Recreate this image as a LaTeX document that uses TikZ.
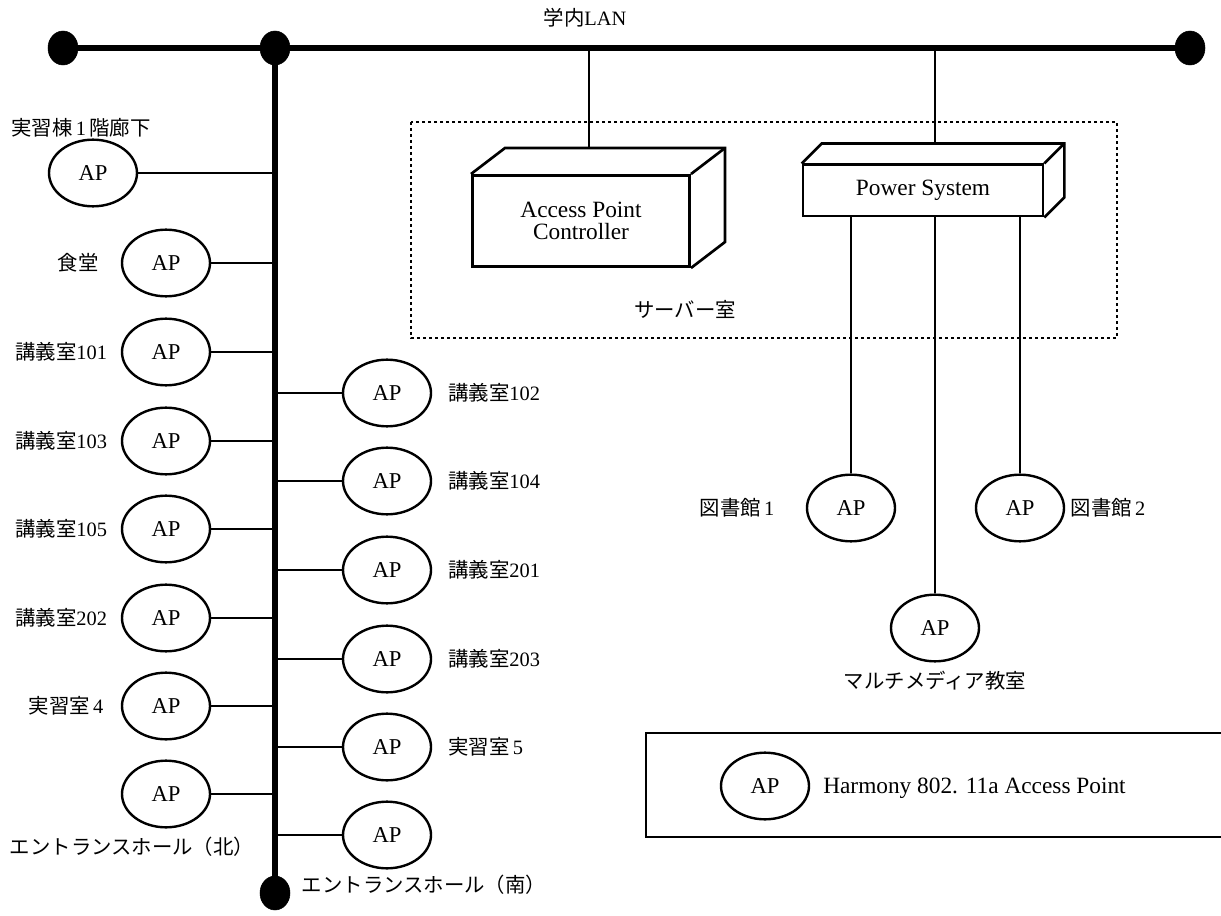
\documentclass[tikz,border=0pt]{standalone}
\usepackage{fontspec}
\setmainfont{Liberation Serif}
\newfontfamily\jp{Noto Sans CJK JP}
\usetikzlibrary{shapes.geometric,calc}
\begin{document}
\begin{tikzpicture}[x=0.75pt,y=-0.75pt,
  bus/.style={line width=3.9pt},
  wire/.style={line width=1.8pt},
  dot/.style={ellipse,fill=black,draw=black,minimum width=22.5pt,minimum height=25.5pt,inner sep=0pt},
  ap/.style={ellipse,draw,line width=1.8pt,minimum width=66pt,minimum height=50pt,inner sep=0pt,font=\fontsize{17}{19}\selectfont},
  lbl/.style={font=\fontsize{15.3}{17}\selectfont,inner sep=0pt},
  boxfront/.style={draw,line width=2pt,align=center,inner sep=0pt,font=\fontsize{17.5}{20}\selectfont},
  boxline/.style={line width=2pt,line join=miter},
  room/.style={line width=1.6pt,dash pattern=on 2.6pt off 1.9pt},
  legendbox/.style={line width=2pt}
]
\useasboundingbox (0,0) rectangle (1221,916);

% backbone
\node[dot] (d1) at (63,48) {};
\node[dot] (d2) at (275,48) {};
\node[dot] (d3) at (1190,48) {};
\node[dot] (d4) at (275,893) {};
\draw[bus] (d1.center) -- (d3.center);
\draw[bus] (d2.center) -- (d4.center);
\node[lbl] (lan) at (585,18) {{\jp 学内}LAN};

% server room
\draw[room] (411,122) rectangle (1117,338);
\node[lbl] (srv) at (685,309) {\jp サーバー室};

% Access Point Controller box
\node[boxfront,minimum width=163pt,minimum height=68.5pt] (apc) at (581,221) {Access Point\\[-3pt]Controller};
\coordinate (apcNW) at ($(apc.north west)+(34,-26)$);
\coordinate (apcNE) at ($(apc.north east)+(34,-26)$);
\coordinate (apcSE) at ($(apc.south east)+(34,-26)$);
\draw[boxline] (apc.north west) -- (apcNW) -- (apcNE) -- (apcSE) -- (apc.south east);
\draw[boxline] (apc.north east) -- (apcNE);
\coordinate (t1) at (589,48);
\draw[wire] (t1) -- (t1 |- apcNW);

% Power System box
\node[boxfront,minimum width=180pt,minimum height=38.5pt] (ps) at (923,190.5) {Power System};
\coordinate (psNW) at ($(ps.north west)+(20,-20)$);
\coordinate (psNE) at ($(ps.north east)+(20,-20)$);
\coordinate (psSE) at ($(ps.south east)+(20,-20)$);
\draw[boxline] (ps.north west) -- (psNW) -- (psNE) -- (psSE) -- (ps.south east);
\draw[boxline] (ps.north east) -- (psNE);
\coordinate (t2) at (935,48);
\draw[wire] (t2) -- (t2 |- psNW);

% APs under power system
\node[ap] (lib1) at (851,508) {AP};
\node[ap] (lib2) at (1020,508) {AP};
\node[ap] (mm) at (935,628) {AP};
\draw[wire] (ps.south -| lib1) -- (lib1.north);
\draw[wire] (ps.south -| lib2) -- (lib2.north);
\draw[wire] (ps.south -| mm) -- (mm.north);
\node[lbl] (lib1l) at (737,508) {{\jp 図書館}\,1};
\node[lbl] (lib2l) at (1108,508) {{\jp 図書館}\,2};
\node[lbl] (mml) at (935,681) {\jp マルチメディア教室};

% left side APs
\node[ap] (a0) at (93,173) {AP};
\node[lbl] (a0l) at (81,128) {{\jp 実習棟}\,1\,{\jp 階廊下}};
\draw[wire] (a0.east) -- (a0.east -| d2);

\foreach \n/\y in {a1/263,a2/352,a3/441,a4/529,a5/618,a6/706,a7/794}{
  \node[ap] (\n) at (166,\y) {AP};
  \draw[wire] (\n.east) -- (\n.east -| d2);
}
\node[lbl] (a1l) at (78,263) {\jp 食堂};
\node[lbl,anchor=west] (a2l) at (15,352) {{\jp 講義室}101};
\node[lbl,anchor=west] (a3l) at (15,441) {{\jp 講義室}103};
\node[lbl,anchor=west] (a4l) at (15,529) {{\jp 講義室}105};
\node[lbl,anchor=west] (a5l) at (15,618) {{\jp 講義室}202};
\node[lbl] (a6l) at (66,706) {{\jp 実習室}\,4};
\node[lbl] (a7l) at (132,847) {\jp エントランスホール（北）};

% right side APs
\foreach \n/\y in {b1/393,b2/481,b3/570,b4/659,b5/747,b6/835}{
  \node[ap] (\n) at (387,\y) {AP};
  \draw[wire] (\n.west -| d2) -- (\n.west);
}
\node[lbl,anchor=west] (b1l) at (448,393) {{\jp 講義室}102};
\node[lbl,anchor=west] (b2l) at (448,481) {{\jp 講義室}104};
\node[lbl,anchor=west] (b3l) at (448,570) {{\jp 講義室}201};
\node[lbl,anchor=west] (b4l) at (448,659) {{\jp 講義室}203};
\node[lbl,anchor=west] (b5l) at (448,747) {{\jp 実習室}\,5};
\node[lbl] (b6l) at (424,885) {\jp エントランスホール（南）};

% legend
\draw[legendbox] (1230,733) -- (646,733) -- (646,837) -- (1230,837);
\node[ap] (lg) at (765,786) {AP};
\node[lbl,anchor=west,font=\fontsize{17.5}{20}\selectfont] (lgt) at (823,788) {Harmony 802. 11a Access Point};
\end{tikzpicture}
\end{document}
